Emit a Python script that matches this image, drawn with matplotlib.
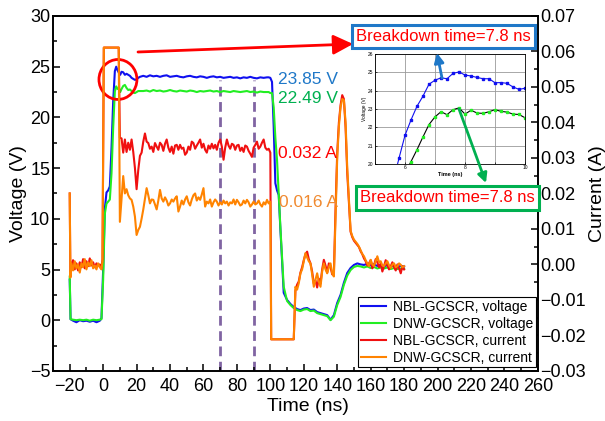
import numpy as np
import matplotlib.pyplot as plt
from matplotlib.patches import Ellipse, FancyArrowPatch
from matplotlib.ticker import MultipleLocator

plt.rcParams['font.family'] = ['Liberation Sans', 'DejaVu Sans']

# voltage traces: time (ns), voltage (V)
t_v = ([-20, -19.5, -18, -16, -14, -12, -10, -8, -6, -4, -2, -1,
        0, 1, 2, 3, 4, 5, 6, 7, 7.8, 8.6, 9.4, 10.2,
        11, 12, 13, 14, 15, 16, 17, 18, 19, 20, 21, 22]
       + list(range(24, 99, 2))
       + [99, 100, 101, 102, 103, 104, 105, 106, 107, 108]
       + list(range(110, 181, 2)))

v_nbl = [4.0, 0.1, -0.05, -0.2, 0.0, -0.1, -0.05, -0.15, -0.05, -0.2, -0.05, 0.2,
         5.0, 11.0, 12.6, 12.8, 13.2, 17.0, 21.6, 24.57, 25.0, 24.65, 24.4, 24.2,
         24.5, 24.45, 24.2, 24.3, 24.2, 24.1, 23.9, 23.8, 23.7, 23.75, 23.9, 24.0,
         24.1, 24.0, 24.15, 24.05, 24.1, 24.0, 24.1, 24.15, 24.0, 24.05,
         24.1, 24.0, 23.95, 24.05, 24.1, 24.0, 23.95, 24.05, 24.0, 23.9,
         24.0, 24.05, 23.95, 24.0, 23.9, 23.95, 24.0, 23.9, 23.95, 23.85,
         23.95, 23.9, 24.0, 23.9, 23.85, 23.95, 23.9, 23.95,
         23.95, 23.9, 23.5, 19.1, 13.5, 12.8, 12.35, 9.0, 5.9, 2.7,
         2.0, 1.6, 1.3, 1.1, 1.0, 1.15, 1.2, 1.0, 1.05, 0.8,
         0.7, 0.6, 0.5, 0.05, 0.5, 1.7, 2.5, 3.7, 4.66, 5.15,
         5.45, 5.6, 5.5, 5.45, 5.55, 5.4, 5.5, 5.35, 5.45, 5.3,
         5.45, 5.3, 5.4, 5.25, 5.35, 5.3]

v_dnw = [4.3, 0.1, 0.05, 0.0, 0.05, 0.0, 0.05, -0.05, 0.05, 0.0, 0.05, 0.1,
         4.0, 10.5, 11.5, 11.7, 11.9, 14.5, 19.0, 22.57, 23.06, 22.8, 22.9, 22.5,
         22.8, 23.1, 23.2, 22.9, 22.7, 22.75, 22.6, 22.45, 22.4, 22.5, 22.6, 22.6,
         22.6, 22.65, 22.55, 22.7, 22.6, 22.65, 22.55, 22.6, 22.7, 22.6,
         22.55, 22.65, 22.6, 22.55, 22.65, 22.6, 22.5, 22.6, 22.55, 22.6,
         22.65, 22.55, 22.6, 22.5, 22.6, 22.55, 22.5, 22.6, 22.55, 22.5,
         22.55, 22.6, 22.5, 22.55, 22.45, 22.55, 22.5, 22.5,
         22.5, 22.4, 22.4, 21.0, 18.0, 15.8, 12.5, 9.2, 6.2, 3.3,
         1.9, 1.5, 1.2, 1.0, 0.9, 1.05, 1.1, 0.9, 0.95, 0.7,
         0.6, 0.5, 0.4, 0.0, 0.35, 1.5, 2.3, 3.5, 4.4, 4.95,
         5.25, 5.35, 5.3, 5.2, 5.3, 5.15, 5.25, 5.1, 5.2, 5.1,
         5.2, 5.05, 5.15, 5.05, 5.1, 5.05]

# current traces: time (ns), current (A)
t_i = ([-20, -19.6] + list(range(-19, 0)) + [-0.4, 0.4, 9.3]
       + list(range(10, 101)) + [100.5, 114] + list(range(115, 181)))

i_nbl = [0.0200, -0.0034, -0.0005, 0.0012, -0.0014, 0.0003, -0.0017, 0.0006, -0.0008, 0.0015,
         -0.0011, 0.0009, -0.0005, 0.0017, -0.0003, 0.0006, -0.0008, 0.0003, -0.0003, 0.0000, -0.0011,
         0.0015, 0.0611, 0.0611,
         0.0357, 0.0355, 0.0315, 0.0352, 0.0317, 0.0343, 0.0323, 0.0352, 0.0317, 0.0272,
         0.0212, 0.0266, 0.0306, 0.0315, 0.0346, 0.0369, 0.0346, 0.0342, 0.0326, 0.0332,
         0.0317, 0.0342, 0.0332, 0.0323, 0.0343, 0.0337, 0.0320, 0.0340, 0.0352, 0.0329,
         0.0317, 0.0332, 0.0312, 0.0335, 0.0337, 0.0323, 0.0337, 0.0326, 0.0329, 0.0309,
         0.0315, 0.0332, 0.0323, 0.0346, 0.0342, 0.0326, 0.0335, 0.0343, 0.0352, 0.0329,
         0.0340, 0.0323, 0.0315, 0.0335, 0.0326, 0.0340, 0.0327, 0.0337, 0.0323, 0.0343,
         0.0352, 0.0332, 0.0295, 0.0329, 0.0352, 0.0335, 0.0326, 0.0340, 0.0337, 0.0323,
         0.0335, 0.0337, 0.0320, 0.0329, 0.0317, 0.0335, 0.0332, 0.0320, 0.0312, 0.0303,
         0.0329, 0.0337, 0.0346, 0.0326, 0.0332, 0.0343, 0.0352, 0.0329, 0.0323, 0.0326,
         0.0315,
         -0.0211, -0.0211,
         -0.0074, -0.0057, -0.0048, -0.0023, -0.0008, 0.0012, 0.0029, 0.0036, 0.0015, 0.0003,
         -0.0020, -0.0054, -0.0045, -0.0065, -0.0040, -0.0054, -0.0014, 0.0013, -0.0003, -0.0023,
         0.0003, -0.0008, -0.0028, -0.0025, 0.0157, 0.0315, 0.0400, 0.0449, 0.0477, 0.0466,
         0.0386, 0.0257, 0.0172, 0.0092, 0.0077, 0.0067, 0.0061, 0.0055, 0.0049, 0.0037,
         0.0029, 0.0017, 0.0009, -0.0003, 0.0003, 0.0012, -0.0011, -0.0003, 0.0015, 0.0006,
         -0.0008, 0.0003, -0.0020, -0.0005, 0.0012, -0.0003, -0.0014, -0.0005, 0.0006, -0.0008,
         -0.0017, 0.0000, -0.0011, -0.0025, -0.0005, -0.0014]

i_dnw = [0.0200, -0.0037, 0.0003, -0.0017, 0.0009, -0.0011, 0.0000, -0.0023, 0.0003, -0.0008,
         0.0015, -0.0014, 0.0006, -0.0005, 0.0012, -0.0011, -0.0003, -0.0014, 0.0003, -0.0008, -0.0014,
         0.0009, 0.0611, 0.0611,
         0.0120, 0.0186, 0.0249, 0.0200, 0.0212, 0.0195, 0.0186, 0.0182, 0.0163, 0.0135,
         0.0083, 0.0097, 0.0106, 0.0129, 0.0155, 0.0186, 0.0215, 0.0195, 0.0172, 0.0183,
         0.0182, 0.0169, 0.0155, 0.0180, 0.0210, 0.0186, 0.0177, 0.0189, 0.0180, 0.0166,
         0.0172, 0.0183, 0.0177, 0.0186, 0.0192, 0.0149, 0.0163, 0.0180, 0.0169, 0.0183,
         0.0192, 0.0175, 0.0166, 0.0183, 0.0195, 0.0200, 0.0180, 0.0189, 0.0182, 0.0197,
         0.0215, 0.0163, 0.0177, 0.0172, 0.0183, 0.0163, 0.0175, 0.0183, 0.0177, 0.0166,
         0.0175, 0.0169, 0.0180, 0.0172, 0.0177, 0.0166, 0.0175, 0.0172, 0.0183, 0.0169,
         0.0182, 0.0175, 0.0166, 0.0169, 0.0180, 0.0172, 0.0182, 0.0175, 0.0163, 0.0169,
         0.0177, 0.0169, 0.0172, 0.0180, 0.0169, 0.0163, 0.0175, 0.0169, 0.0182, 0.0172,
         0.0177,
         -0.0211, -0.0211,
         -0.0063, -0.0071, -0.0053, -0.0025, -0.0014, 0.0009, 0.0032, 0.0020, 0.0009, 0.0003,
         -0.0028, -0.0063, -0.0043, -0.0025, -0.0048, -0.0063, -0.0020, 0.0003, -0.0014, -0.0025,
         -0.0008, 0.0003, -0.0025, -0.0034, 0.0129, 0.0300, 0.0389, 0.0443, 0.0466, 0.0463,
         0.0400, 0.0272, 0.0182, 0.0095, 0.0080, 0.0070, 0.0064, 0.0058, 0.0050, 0.0040,
         0.0029, 0.0023, 0.0012, 0.0003, -0.0005, 0.0013, 0.0000, -0.0005, 0.0009, 0.0023,
         0.0006, 0.0009, -0.0003, -0.0005, 0.0003, 0.0009, -0.0003, -0.0010, 0.0000, 0.0003,
         -0.0008, -0.0005, 0.0003, -0.0001, -0.0008, -0.0005]

# zoomed breakdown region (inset)
t_zoom_nbl = [5.6, 5.8, 6.0, 6.2, 6.4, 6.6, 6.8, 7.0, 7.2, 7.4, 7.6, 7.8,
              8.0, 8.2, 8.4, 8.6, 8.8, 9.0, 9.2, 9.4, 9.6, 9.8, 10.0]
v_zoom_nbl = [19.0, 20.31, 21.56, 22.4, 23.15, 23.7, 24.35, 24.57, 24.7, 24.65, 24.94, 25.02,
              24.85, 24.8, 24.72, 24.65, 24.65, 24.43, 24.44, 24.4, 24.2, 24.07, 24.13]
t_zoom_dnw = [6.0, 6.2, 6.4, 6.6, 6.8, 7.0, 7.2, 7.4, 7.6, 7.8,
              8.0, 8.2, 8.4, 8.6, 8.8, 9.0, 9.2, 9.4, 9.6, 9.8, 10.0]
v_zoom_dnw = [19.5, 20.13, 20.78, 21.48, 22.15, 22.57, 22.85, 22.69, 22.96, 23.06,
              22.72, 22.93, 22.78, 22.76, 22.85, 22.96, 22.87, 22.83, 22.72, 22.7, 22.52]

labels = ['NBL-GCSCR, voltage', 'DNW-GCSCR, voltage',
          'NBL-GCSCR, current', 'DNW-GCSCR, current']
marker_times = [70, 90]

c_blue = '#1010F0'
c_green = '#22EE22'
c_red = '#F01010'
c_orange = '#FF8300'

fig = plt.figure(figsize=(6.05, 4.21), dpi=100)
ax = fig.add_axes([0.0876, 0.119, 0.8014, 0.843])
ax2 = ax.twinx()

l1, = ax.plot(t_v, v_nbl, color=c_blue, lw=1.5)
l2, = ax.plot(t_v, v_dnw, color=c_green, lw=1.5)
ax.vlines(marker_times, -5, 23.7, colors='#8064A2', lw=2, linestyles=(0, (3.5, 2)), zorder=1.5)
l3, = ax2.plot(t_i, i_nbl, color=c_red, lw=1.5)
l4, = ax2.plot(t_i, i_dnw, color=c_orange, lw=1.5)

ax.set_xlim(-30, 260)
ax.set_ylim(-5, 30)
ax2.set_ylim(-0.03, 0.07)
ax.set_xticks(range(-20, 261, 20))
ax.xaxis.set_minor_locator(MultipleLocator(10))
ax.yaxis.set_major_locator(MultipleLocator(5))
ax.yaxis.set_minor_locator(MultipleLocator(2.5))
ax2.yaxis.set_major_locator(MultipleLocator(0.01))
ax2.yaxis.set_minor_locator(MultipleLocator(0.005))
for a in (ax, ax2):
    a.tick_params(which='major', direction='in', length=5, width=1.1, labelsize=13)
    a.tick_params(which='minor', direction='in', length=3, width=1.1)
    for s in a.spines.values():
        s.set_linewidth(1.2)
ax.tick_params(axis='x', pad=5)
ax.tick_params(axis='y', pad=2)
ax2.tick_params(axis='y', pad=2)

ax.set_xlabel('Time (ns)', fontsize=14, labelpad=0)
ax.xaxis.set_label_coords(0.525, -0.075)
ax.set_ylabel('Voltage (V)', fontsize=14, labelpad=2)
ax2.set_ylabel('Current (A)', fontsize=14, labelpad=2)

# level annotations
ax2.text(104.8, 23.76, '23.85 V', transform=ax.transData, color='#1F78C8', fontsize=12.5, va='center')
ax2.text(104.8, 21.9, '22.49 V', transform=ax.transData, color='#00B050', fontsize=12.5, va='center')
ax2.text(104.8, 16.46, '0.032 A', transform=ax.transData, color='#FF0000', fontsize=12.5, va='center')
ax2.text(105.2, 11.6, '0.016 A', transform=ax.transData, color='#F08A30', fontsize=12.5, va='center')

ax2.add_patch(Ellipse((8.85, 23.74), 22.7, 3.94, transform=ax.transData,
                      fill=False, ec='red', lw=2, clip_on=False))

leg = ax2.legend([l1, l2, l3, l4], labels, loc='lower right', bbox_to_anchor=(0.996, 0.01),
                 fontsize=10, frameon=True, fancybox=False, edgecolor='black', framealpha=1,
                 borderpad=0.2, labelspacing=0.2, handlelength=1.8, handletextpad=0.5,
                 borderaxespad=0)
leg.get_frame().set_linewidth(0.8)

# inset: zoom on the breakdown point
ins = fig.add_axes([0.6198, 0.6105, 0.248, 0.2613])
ins.plot(t_zoom_nbl, v_zoom_nbl, color='#1010F0', lw=0.8, marker='s', ms=1.6)
ins.plot(t_zoom_dnw, v_zoom_dnw, color='black', lw=0.8, marker='s', ms=1.6,
         mfc='#22EE22', mec='#22EE22')
ins.set_xlim(5, 10)
ins.set_ylim(20, 26)
ins.xaxis.set_major_locator(MultipleLocator(2))
ins.xaxis.set_minor_locator(MultipleLocator(1))
ins.yaxis.set_major_locator(MultipleLocator(1))
ins.grid(which='both', color='#9a9a9a', lw=0.6)
ins.set_axisbelow(True)
ins.tick_params(which='both', labelsize=3.5, length=1.2, width=0.5, pad=1, direction='in')
for s in ins.spines.values():
    s.set_linewidth(0.6)
ins.set_xlabel('Time (ns)', fontsize=4, fontweight='bold', labelpad=1)
ins.set_ylabel('Voltage (V)', fontsize=3.5, labelpad=1)

# callouts
fig.text(0.733, 0.913, 'Breakdown time=7.8 ns', color='red', fontsize=12, ha='center', va='center',
         bbox=dict(boxstyle='square,pad=0.25', fc='white', ec='#1F78C8', lw=2.2))
fig.text(0.739, 0.5297, 'Breakdown time=7.8 ns', color='red', fontsize=12, ha='center', va='center',
         bbox=dict(boxstyle='square,pad=0.25', fc='white', ec='#00B050', lw=2.2))

fig.add_artist(FancyArrowPatch((0.2281, 0.8765), (0.5835, 0.8955), transform=fig.transFigure,
                               arrowstyle='-|>,head_length=0.6,head_width=0.3', mutation_scale=20,
                               color='red', lw=2, shrinkA=0, shrinkB=0))
fig.add_artist(FancyArrowPatch((0.7306, 0.8147), (0.7223, 0.8741), transform=fig.transFigure,
                               arrowstyle='-|>,head_length=0.4,head_width=0.2', mutation_scale=14,
                               color='#1F78C8', lw=2, shrinkA=0, shrinkB=0))
fig.add_artist(FancyArrowPatch((0.7587, 0.7411), (0.8033, 0.5653), transform=fig.transFigure,
                               arrowstyle='-|>,head_length=0.4,head_width=0.2', mutation_scale=14,
                               color='#00B050', lw=2, shrinkA=0, shrinkB=0))

fig.savefig('out.png', dpi=100)
